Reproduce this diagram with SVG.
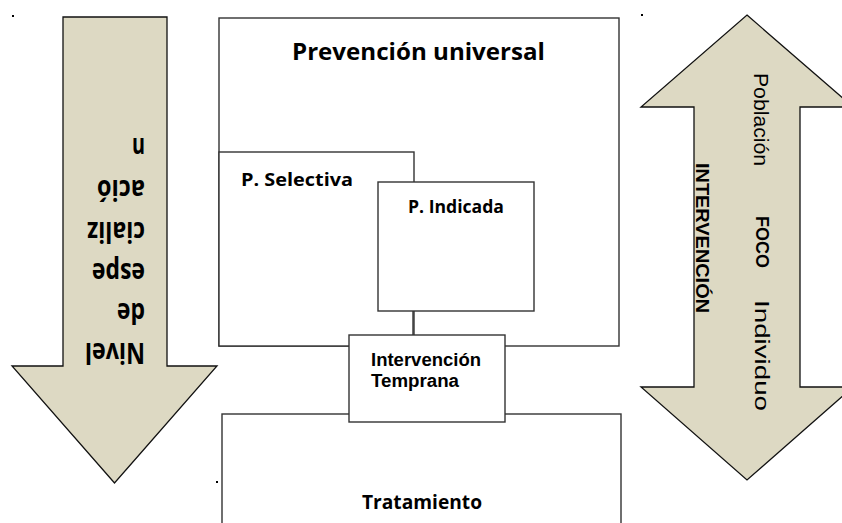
<svg xmlns="http://www.w3.org/2000/svg" width="842" height="523" viewBox="0 0 842 523">
<style>
.arrow{fill:#DDD9C3;stroke:#111;stroke-width:1.3;stroke-linejoin:miter}
.box{fill:#fff;stroke:#333;stroke-width:1.4}
.conn{stroke:#333;stroke-width:1.4;fill:none}
.lbl{font-family:"Open Sans","Liberation Sans",sans-serif;font-weight:bold;fill:#000}
.lbl2{font-family:"Liberation Sans",Arial,sans-serif;font-weight:bold;fill:#000}
.rlbl{font-family:"Liberation Sans",Arial,sans-serif;fill:#000}
.dot{fill:#000}
</style>
<rect width="842" height="523" fill="#fff"/>
<g id="marks">
<rect class="dot" x="12" y="15" width="2" height="2"/>
<rect class="dot" x="641" y="14" width="2" height="2"/>
<rect class="dot" x="216" y="481" width="2" height="2"/>
</g>
<g id="nivel-arrow">
<polygon class="arrow" points="63,17 167,17 167,366 217,366 114.5,483 12,366 63,366"/>
<text class="lbl" font-size="28" transform="rotate(180 145 343)">
<tspan x="145" y="343" textLength="60" lengthAdjust="spacingAndGlyphs">Nivel</tspan>
<tspan x="145" y="383" textLength="28" lengthAdjust="spacingAndGlyphs">de</tspan>
<tspan x="145" y="423" textLength="53" lengthAdjust="spacingAndGlyphs">espe</tspan>
<tspan x="145" y="464" textLength="58" lengthAdjust="spacingAndGlyphs">cializ</tspan>
<tspan x="145" y="506" textLength="48" lengthAdjust="spacingAndGlyphs">ació</tspan>
<tspan x="145" y="548" textLength="13" lengthAdjust="spacingAndGlyphs">n</tspan>
</text>
</g>
<g id="foco-arrow">
<polygon class="arrow" points="747,15 853,107 800,107 800,387 853,387 747,480 641,387 694,387 694,107 641,107"/>
<text class="rlbl" font-size="20" transform="rotate(90 754 73)" x="754" y="73" textLength="93" lengthAdjust="spacingAndGlyphs">Población</text>
<text class="rlbl" font-size="19" font-weight="bold" transform="rotate(90 756 216)" x="756" y="216" textLength="52" lengthAdjust="spacingAndGlyphs">FOCO</text>
<text class="rlbl" font-size="20" transform="rotate(90 755 300)" x="755" y="300" textLength="111" lengthAdjust="spacingAndGlyphs">Individuo</text>
<text class="rlbl" font-size="18" font-weight="bold" transform="rotate(90 696 163)" x="696" y="163" textLength="150" lengthAdjust="spacingAndGlyphs">INTERVENCIÓN</text>
</g>
<g id="prevencion-universal">
<rect class="box" x="219" y="18" width="400" height="328"/>
<text class="lbl" font-size="23.5" x="292" y="60" textLength="253" lengthAdjust="spacingAndGlyphs">Prevención universal</text>
</g>
<g id="p-selectiva">
<rect class="box" x="219" y="152" width="195" height="194"/>
<text class="lbl" font-size="18.5" x="241" y="186" textLength="112" lengthAdjust="spacingAndGlyphs">P. Selectiva</text>
</g>
<g id="p-indicada">
<rect class="box" x="378" y="182" width="156" height="129"/>
<text class="lbl" font-size="17" x="408" y="213" textLength="96" lengthAdjust="spacingAndGlyphs">P. Indicada</text>
</g>
<g id="tratamiento">
<rect class="box" x="222" y="414" width="399" height="140"/>
<text class="lbl" font-size="19.5" x="362" y="509" textLength="120" lengthAdjust="spacingAndGlyphs">Tratamiento</text>
</g>
<g id="connectors">
<line class="conn" x1="413" y1="311" x2="413" y2="335"/>
</g>
<g id="intervencion-temprana">
<rect class="box" x="349" y="335" width="156" height="87"/>
<text class="lbl2" font-size="18" x="371" y="366" textLength="110" lengthAdjust="spacingAndGlyphs">Intervención</text>
<text class="lbl2" font-size="18" x="371" y="387" textLength="88" lengthAdjust="spacingAndGlyphs">Temprana</text>
</g>
</svg>
